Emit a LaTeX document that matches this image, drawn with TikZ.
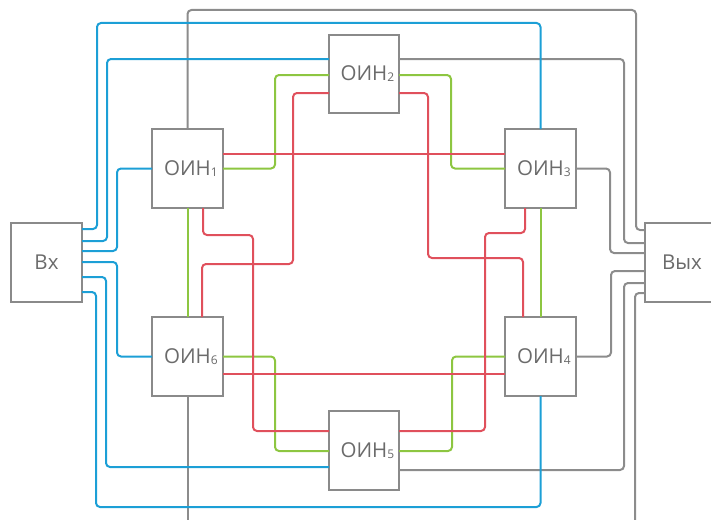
\documentclass[tikz,border=0pt]{standalone}
\usepackage{fontspec}
\setmainfont{Open Sans}
\definecolor{boxgray}{HTML}{8A8A8A}
\definecolor{txtgray}{HTML}{6B6B6B}
\definecolor{wgray}{HTML}{8C8C8C}
\definecolor{wblue}{HTML}{1C9FD6}
\definecolor{wgreen}{HTML}{8DC641}
\definecolor{wred}{HTML}{E0505C}
% node label: name with a small index hanging to the right
\newcommand\oin[1]{ОИН\rlap{\fontsize{12}{12}\selectfont\raisebox{-1pt}{#1}}}
\tikzset{
  unit/.style={draw=boxgray, line width=2pt, fill=white, text=txtgray,
    font=\fontsize{20.5}{20.5}\selectfont, minimum width=71pt, minimum height=79pt,
    inner sep=0pt, outer sep=0pt},
  wire/.style={line width=2pt, rounded corners=4pt},
  gw/.style={wire, draw=wgray},
  bw/.style={wire, draw=wblue},
  gnw/.style={wire, draw=wgreen},
  rw/.style={wire, draw=wred}
}
\begin{document}
\begin{tikzpicture}[x=1pt, y=-1pt]
\useasboundingbox (0,0) rectangle (711,519);
\clip (0,0) rectangle (711,519);

% units
\node[unit] (vx) at (46.5,262) {\raisebox{-1.5pt}{Вх}};
\node[unit, minimum width=74pt] (vy) at (682,262) {\raisebox{-1.5pt}{Вых}};
\node[unit] (o1) at (187.5,168.5) {\oin{1}};
\node[unit, minimum width=70pt, minimum height=78pt] (o2) at (364,74) {\oin{2}};
\node[unit] (o3) at (540.5,168.5) {\oin{3}};
\node[unit] (o4) at (540.5,356.5) {\oin{4}};
\node[unit, minimum width=70pt] (o5) at (364,450.5) {\oin{5}};
\node[unit] (o6) at (187.5,356.5) {\oin{6}};

\coordinate (g6end) at (187.5,525);
\coordinate (gyend) at (635,525);

% outputs to Вых
\draw[gw] (o1.north) -- (187.5,10) -- (636,10) -- (636,230) -- (vy.west |- 0,230);
\draw[gw] (o2.east |- 0,59) -- (624,59) -- (624,243) -- (vy.west |- 0,243);
\draw[gw] (o3.east) -- (610,168.5) -- (610,253) -- (vy.west |- 0,253);
\draw[gw] (o4.east) -- (611,356.5) -- (611,271) -- (vy.west |- 0,271);
\draw[gw] (o5.east |- 0,470) -- (624,470) -- (624,283) -- (vy.west |- 0,283);
\draw[gw] (gyend) -- (635,293) -- (vy.west |- 0,293);
\draw[gw] (o6.south) -- (g6end);

% ring links
\draw[gnw] (o1.east) -- (275,168.5) -- (275,75) -- (o2.west |- 0,75);
\draw[gnw] (o2.east |- 0,75) -- (451,75) -- (451,168.5) -- (o3.west);
\draw[gnw] (o3.south) -- (o4.north);
\draw[gnw] (o4.west) -- (452,356.5) -- (452,451) -- (o5.east |- 0,451);
\draw[gnw] (o5.west |- 0,451) -- (275,451) -- (275,356.5) -- (o6.east);
\draw[gnw] (o6.north) -- (o1.south);

% inputs from Вх
\draw[bw] (vx.east |- 0,229) -- (97,229) -- (97,23) -- (540.5,23) -- (o3.north);
\draw[bw] (vx.east |- 0,241) -- (107,241) -- (107,59) -- (o2.west |- 0,59);
\draw[bw] (vx.east |- 0,251) -- (117,251) -- (117,168.5) -- (o1.west);
\draw[bw] (vx.east |- 0,262) -- (117,262) -- (117,356.5) -- (o6.west);
\draw[bw] (vx.east |- 0,277) -- (106,277) -- (106,467) -- (o5.west |- 0,467);
\draw[bw] (vx.east |- 0,292) -- (96,292) -- (96,507) -- (540.5,507) -- (o4.south);

% cross links
\draw[rw] (o1.east |- 0,154) -- (o3.west |- 0,154);
\draw[rw] (o6.east |- 0,374) -- (o4.west |- 0,374);
\draw[rw] (o2.west |- 0,93) -- (293,93) -- (293,264) -- (202,264) -- (o6.north -| 202,0);
\draw[rw] (o1.south -| 203,0) -- (203,235) -- (253,235) -- (253,431) -- (o5.west |- 0,431);
\draw[rw] (o2.east |- 0,93) -- (428,93) -- (428,258) -- (523,258) -- (o4.north -| 523,0);
\draw[rw] (o3.south -| 525,0) -- (525,233) -- (485,233) -- (485,431) -- (o5.east |- 0,431);
\end{tikzpicture}
\end{document}
